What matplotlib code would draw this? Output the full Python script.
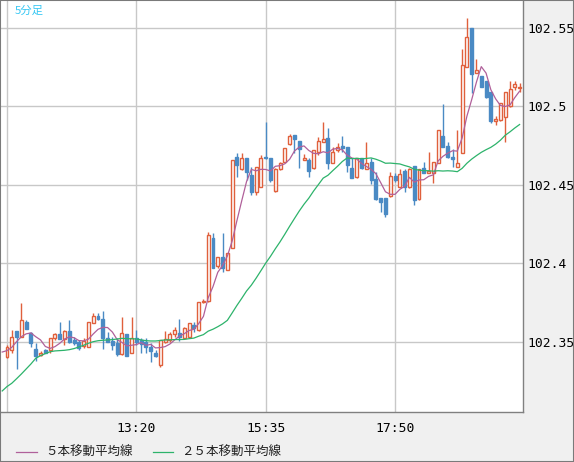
import matplotlib
matplotlib.use("Agg")
import matplotlib.pyplot as plt
from matplotlib.lines import Line2D
from matplotlib.patches import Rectangle
import numpy as np
import pandas as pd

# 5分足 OHLC (11:05 から)
opens = [102.3407, 102.3449, 102.3570, 102.3534, 102.3625, 102.3555, 102.3453, 102.3417, 102.3449, 102.3449,
         102.3523, 102.3551, 102.3519, 102.3568, 102.3513, 102.3502, 102.3475, 102.3466, 102.3619, 102.3666,
         102.3644, 102.3523, 102.3508, 102.3492, 102.3424, 102.3551, 102.3432, 102.3523, 102.3513, 102.3502,
         102.3470, 102.3432, 102.3354, 102.3502, 102.3513, 102.3549, 102.3559, 102.3523, 102.3534, 102.3608,
         102.3576, 102.3757, 102.3761, 102.4160, 102.3986, 102.4044, 102.3959, 102.4097, 102.4680, 102.4602,
         102.4670, 102.4564, 102.4458, 102.4489, 102.4680, 102.4670, 102.4462, 102.4602, 102.4649, 102.4759,
         102.4818, 102.4780, 102.4657, 102.4659, 102.4606, 102.4708, 102.4776, 102.4801, 102.4638, 102.4723,
         102.4748, 102.4740, 102.4610, 102.4553, 102.4674, 102.4602, 102.4649, 102.4538, 102.4415, 102.4415,
         102.4432, 102.4557, 102.4485, 102.4589, 102.4485, 102.4621, 102.4409, 102.4606, 102.4579, 102.4579,
         102.4638, 102.4812, 102.4748, 102.4680, 102.4617, 102.4706, 102.5249, 102.5500, 102.5211, 102.5194,
         102.5165, 102.5094, 102.4910, 102.4914, 102.4935, 102.5003, 102.5122, 102.5118]
highs = [102.3481, 102.3576, 102.3572, 102.3751, 102.3640, 102.3566, 102.3492, 102.3443, 102.3453, 102.3528,
         102.3559, 102.3625, 102.3576, 102.3640, 102.3534, 102.3513, 102.3523, 102.3625, 102.3687, 102.3683,
         102.3700, 102.3566, 102.3534, 102.3523, 102.3661, 102.3551, 102.3657, 102.3576, 102.3523, 102.3523,
         102.3492, 102.3449, 102.3513, 102.3570, 102.3566, 102.3598, 102.3644, 102.3598, 102.3619, 102.3630,
         102.3757, 102.3772, 102.4199, 102.4192, 102.4044, 102.4192, 102.4065, 102.4659, 102.4702, 102.4702,
         102.4670, 102.4617, 102.4617, 102.4691, 102.4903, 102.4674, 102.4606, 102.4649, 102.4738, 102.4823,
         102.4818, 102.4780, 102.4700, 102.4674, 102.4723, 102.4808, 102.4903, 102.4861, 102.4744, 102.4765,
         102.4814, 102.4740, 102.4674, 102.4674, 102.4674, 102.4776, 102.4670, 102.4585, 102.4415, 102.4415,
         102.4585, 102.4574, 102.4600, 102.4600, 102.4606, 102.4621, 102.4600, 102.4649, 102.4712, 102.4649,
         102.4850, 102.5018, 102.4776, 102.4727, 102.4850, 102.5364, 102.5562, 102.5500, 102.5300, 102.5194,
         102.5165, 102.5094, 102.4939, 102.5020, 102.5094, 102.5165, 102.5165, 102.5152]
lows = [102.3396, 102.3428, 102.3328, 102.3530, 102.3581, 102.3470, 102.3381, 102.3413, 102.3428, 102.3428,
        102.3513, 102.3517, 102.3481, 102.3492, 102.3481, 102.3449, 102.3460, 102.3466, 102.3619, 102.3640,
        102.3453, 102.3502, 102.3449, 102.3411, 102.3417, 102.3413, 102.3432, 102.3481, 102.3428, 102.3428,
        102.3375, 102.3402, 102.3343, 102.3496, 102.3502, 102.3534, 102.3508, 102.3523, 102.3534, 102.3566,
        102.3572, 102.3750, 102.3757, 102.3969, 102.3969, 102.3948, 102.3959, 102.4097, 102.4553, 102.4596,
        102.4532, 102.4436, 102.4436, 102.4489, 102.4666, 102.4521, 102.4453, 102.4596, 102.4644, 102.4755,
        102.4702, 102.4610, 102.4657, 102.4553, 102.4602, 102.4691, 102.4776, 102.4602, 102.4638, 102.4708,
        102.4708, 102.4581, 102.4547, 102.4547, 102.4602, 102.4602, 102.4504, 102.4404, 102.4330, 102.4298,
        102.4426, 102.4521, 102.4485, 102.4458, 102.4479, 102.4370, 102.4404, 102.4579, 102.4579, 102.4511,
        102.4638, 102.4744, 102.4670, 102.4617, 102.4617, 102.4706, 102.5249, 102.5088, 102.5211, 102.5122,
        102.5052, 102.4893, 102.4882, 102.4910, 102.4776, 102.4999, 102.5105, 102.5094]
closes = [102.3466, 102.3534, 102.3534, 102.3640, 102.3585, 102.3496, 102.3413, 102.3432, 102.3432, 102.3523,
          102.3551, 102.3519, 102.3568, 102.3502, 102.3496, 102.3460, 102.3508, 102.3625, 102.3666, 102.3644,
          102.3523, 102.3502, 102.3481, 102.3424, 102.3555, 102.3413, 102.3523, 102.3502, 102.3487, 102.3466,
          102.3445, 102.3411, 102.3513, 102.3517, 102.3549, 102.3576, 102.3534, 102.3587, 102.3619, 102.3587,
          102.3757, 102.3764, 102.4182, 102.3973, 102.4044, 102.3973, 102.4065, 102.4659, 102.4627, 102.4674,
          102.4581, 102.4453, 102.4617, 102.4674, 102.4670, 102.4532, 102.4602, 102.4638, 102.4734, 102.4814,
          102.4793, 102.4729, 102.4674, 102.4589, 102.4723, 102.4780, 102.4793, 102.4638, 102.4708, 102.4744,
          102.4734, 102.4627, 102.4547, 102.4674, 102.4606, 102.4638, 102.4532, 102.4411, 102.4390, 102.4313,
          102.4557, 102.4532, 102.4570, 102.4485, 102.4600, 102.4404, 102.4600, 102.4579, 102.4591, 102.4649,
          102.4850, 102.4744, 102.4680, 102.4668, 102.4638, 102.5264, 102.5441, 102.5207, 102.5232, 102.5126,
          102.5058, 102.4910, 102.4918, 102.5020, 102.5094, 102.5109, 102.5143, 102.5122]

# 移動平均の先頭部分 (表示範囲より前の足を含むので図から読み取り、1本前の足から)
ma5_head = [102.3436, 102.3445, 102.3466, 102.3502, 102.3534]
ma25_head = [102.3188, 102.3216, 102.3237, 102.3266, 102.3296, 102.3328, 102.3360, 102.3396, 102.3413,
             102.3426, 102.3438, 102.3443, 102.3445, 102.3447, 102.3451, 102.3458, 102.3468,
             102.3479, 102.3492, 102.3502, 102.3508, 102.3511, 102.3513, 102.3515, 102.3519]

start_time = "11:05"
y_ticks = [102.35, 102.4, 102.45, 102.5, 102.55]
title = "5分足"
legend_labels = ["５本移動平均線", "２５本移動平均線"]

UP = "#e0603c"
DOWN = "#4a8ac4"
MA5_C = "#b0609a"
MA25_C = "#2db36b"

df = pd.DataFrame({"open": opens, "high": highs, "low": lows, "close": closes})
df["time"] = pd.date_range("2020-01-01 " + start_time, periods=len(df), freq="5min")
xs = np.arange(len(df))

# 1本前 (x=-1) から移動平均を引く
ma_x = np.arange(-1, len(df))
ma5 = np.concatenate([[np.nan], df["close"].rolling(5).mean().to_numpy()])
ma5[:len(ma5_head)] = ma5_head
ma25 = np.concatenate([[np.nan], df["close"].rolling(25).mean().to_numpy()])
ma25[:len(ma25_head)] = ma25_head

fig = plt.figure(figsize=(5.74, 4.62), dpi=100, facecolor="#f0f0f0")
ax = fig.add_axes([1 / 574, 50 / 462, 522 / 574, 411 / 462])
ax.set_facecolor("white")
ax.set_axisbelow(True)

up = df["close"] >= df["open"]
cols = np.where(up, UP, DOWN)

ax.vlines(xs, df["low"], df["high"], colors=cols, linewidth=1, zorder=2)
bottoms = np.minimum(df["open"], df["close"])
heights = np.abs(df["close"] - df["open"])
ax.bar(xs, heights, width=0.62, bottom=bottoms, color=np.where(up, "white", DOWN),
       edgecolor=cols, linewidth=1, zorder=3)

ax.plot(ma_x, ma5, color=MA5_C, linewidth=0.9, zorder=4)
ax.plot(ma_x, ma25, color=MA25_C, linewidth=0.9, zorder=4)

ax.set_xlim(-1.25, len(df) - 0.29)
ax.set_ylim(102.3054, 102.5672)

tick_idx = list(range(0, len(df), 27))
tick_lab = [t.strftime("%H:%M") for t in df["time"].iloc[tick_idx]]
tick_lab[0] = ""
ax.set_xticks(tick_idx)
ax.set_xticklabels(tick_lab)
ax.set_yticks(y_ticks)
ax.set_yticklabels(["%g" % v for v in y_ticks])
ax.yaxis.tick_right()
ax.tick_params(length=0, labelsize=9.4, labelcolor="black")
ax.tick_params(axis="x", pad=7)
ax.tick_params(axis="y", pad=3)
for lab in ax.get_xticklabels() + ax.get_yticklabels():
    lab.set_family("DejaVu Sans Mono")
ax.grid(True, color="#c8c8c8", linewidth=1)

for s in ["left", "top"]:
    ax.spines[s].set_visible(False)
for s in ["right", "bottom"]:
    ax.spines[s].set_color("#808080")
    ax.spines[s].set_linewidth(1)

ax.text(14 / 522, 1 - 10 / 411, title, transform=ax.transAxes, color="#38c8f4",
        fontsize=8.2, va="center", ha="left", family=["Noto Sans CJK JP", "DejaVu Sans"])

# 凡例
ly = 1 - 452 / 462
for (x0, x1, tx), lab, c in zip([(16, 37, 45), (153, 173, 181)], legend_labels, [MA5_C, MA25_C]):
    fig.add_artist(Line2D([x0 / 574, x1 / 574], [ly, ly], color=c, linewidth=0.9))
    fig.text(tx / 574, ly, lab, fontsize=9, va="center", ha="left",
             family=["Noto Sans CJK JP", "DejaVu Sans"], color="#202020")

fig.add_artist(Rectangle((0, 0), 1, 1, transform=fig.transFigure, fill=False,
                         edgecolor="#7a7a7a", linewidth=1.5))

fig.savefig("out.png", dpi=100, facecolor=fig.get_facecolor())
